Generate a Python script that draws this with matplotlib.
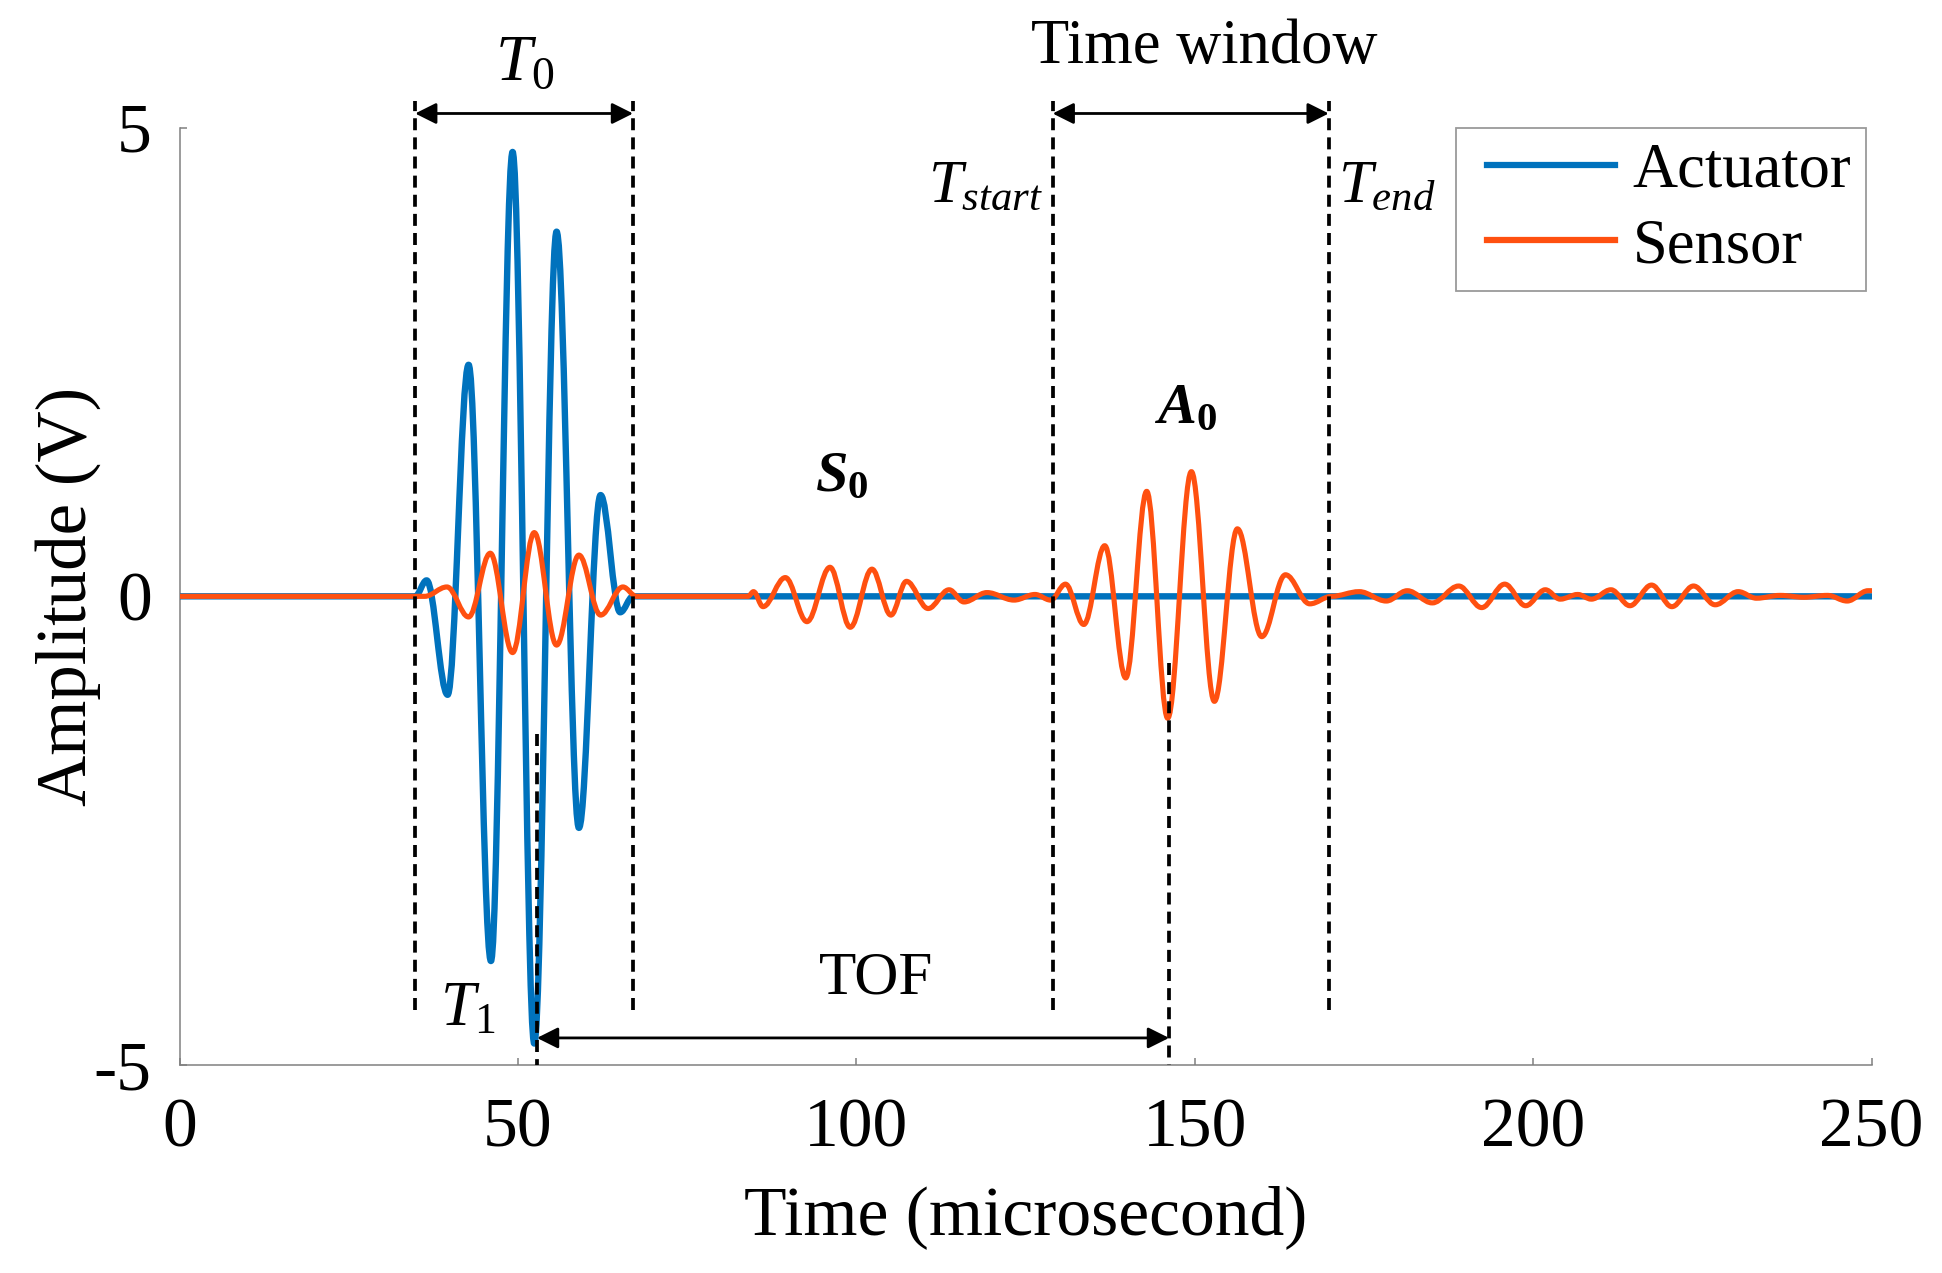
import matplotlib

matplotlib.use("Agg")
import matplotlib.pyplot as plt
from matplotlib.legend_handler import HandlerLine2D
from matplotlib.lines import Line2D
from matplotlib.patches import PathPatch
from matplotlib.path import Path

# ---------------------------------------------------------------------------
# Waveform extrema: (time in us, amplitude in V).
# ---------------------------------------------------------------------------

actuator_t = [0.0, 34.8, 36.5, 39.6, 42.7, 46.0, 49.2, 52.4, 55.7, 59.0, 62.2, 65.1, 67.0, 250.0]
actuator_v = [0.0, 0.0, 0.17, -1.05, 2.47, -3.89, 4.74, -4.77, 3.89, -2.47, 1.08, -0.17, 0.0, 0.0]

sensor_t = [
    0.0, 36.2, 39.5, 42.7, 45.9, 49.2, 52.4, 55.7, 59.0, 62.2, 65.5, 67.5,
    # S0 packet
    84.0, 84.8, 86.2, 89.5, 92.7, 96.1, 99.1, 102.3, 105.1, 107.4, 110.6,
    113.7, 115.9, 119.3, 123.3, 126.4, 128.7,
    # A0 packet
    130.9, 133.6, 136.7, 139.8, 142.9, 146.0, 149.5, 152.9, 156.3, 159.9,
    163.4, 167.0, 170.2,
    # reflections
    174.3, 178.3, 181.4, 185.1, 189.0, 192.4, 195.8, 198.9, 201.8, 204.0,
    206.6, 208.6, 211.5, 214.3, 217.5, 220.5, 223.7, 226.9, 230.3, 233.0,
    236.5, 240.0, 243.5, 246.4, 249.5, 250.0,
]
sensor_v = [
    0.0, 0.0, 0.1, -0.22, 0.46, -0.6, 0.68, -0.52, 0.44, -0.2, 0.1, 0.0,
    0.0, 0.05, -0.11, 0.2, -0.27, 0.31, -0.33, 0.29, -0.2, 0.16, -0.13,
    0.07, -0.06, 0.04, -0.04, 0.02, -0.04,
    0.13, -0.3, 0.54, -0.87, 1.12, -1.3, 1.33, -1.12, 0.72, -0.43,
    0.23, -0.08, 0.0,
    0.05, -0.05, 0.06, -0.07, 0.11, -0.12, 0.13, -0.1, 0.07, -0.03,
    0.02, -0.03, 0.07, -0.1, 0.12, -0.11, 0.11, -0.09, 0.05, -0.02,
    0.01, -0.01, 0.01, -0.05, 0.06, 0.06,
]

# annotation anchors (us)
t0_lines = [34.8, 67.0]
window_lines = [129.0, 169.8]
tof_lines = [52.8, 146.2]
tof_line_tops = [-1.47, -0.71]

xticks = [0, 50, 100, 150, 200, 250]
yticks = [-5, 0, 5]

BLUE = "#0072BD"
ORANGE = "#FF5010"
SPINE = "#808080"
K = 0.3634  # bezier handle fraction that mimics a half cosine between extrema

plt.rcParams["font.family"] = ["Liberation Serif", "DejaVu Serif"]
plt.rcParams["mathtext.fontset"] = "custom"
plt.rcParams["mathtext.rm"] = "Liberation Serif"
plt.rcParams["mathtext.it"] = "Liberation Serif:italic"
plt.rcParams["mathtext.bf"] = "Liberation Serif:bold"
plt.rcParams["mathtext.bfit"] = "Liberation Serif:italic:bold"
plt.rcParams["axes.unicode_minus"] = False


def wave_path(t, v):
    verts = [(t[0], v[0])]
    codes = [Path.MOVETO]
    for i in range(len(t) - 1):
        dt = t[i + 1] - t[i]
        verts += [(t[i] + K * dt, v[i]), (t[i + 1] - K * dt, v[i + 1]), (t[i + 1], v[i + 1])]
        codes += [Path.CURVE4] * 3
    return Path(verts, codes)


fig = plt.figure(figsize=(19.42, 12.73), dpi=100)
ax = fig.add_axes([0.0925, 0.1633, 0.8712, 0.7365])

ax.add_patch(PathPatch(wave_path(actuator_t, actuator_v), fill=False, edgecolor=BLUE,
                       lw=4.6, capstyle="round", joinstyle="round", zorder=3))
ax.add_patch(PathPatch(wave_path(sensor_t, sensor_v), fill=False, edgecolor=ORANGE,
                       lw=3.7, capstyle="round", joinstyle="round", zorder=4))

ax.set_xlim(0, 250)
ax.set_ylim(-5, 5)
ax.set_xticks(xticks)
ax.set_yticks(yticks)
ax.set_xticklabels([str(x) for x in xticks])
ax.set_yticklabels([str(y) for y in yticks])
ax.tick_params(direction="in", length=5, width=1.1, color=SPINE, labelsize=50)
ax.tick_params(axis="x", pad=24)
ax.tick_params(axis="y", pad=20)
for side in ("top", "right"):
    ax.spines[side].set_visible(False)
for side in ("left", "bottom"):
    ax.spines[side].set_color(SPINE)
    ax.spines[side].set_linewidth(1.1)

ax.set_xlabel("Time (microsecond)", fontsize=50, labelpad=17)
ax.set_ylabel("Amplitude (V)", fontsize=51, labelpad=-5)

# dashed markers
dash = dict(color="k", lw=2.7, linestyle=(0, (3.2, 1.9)), clip_on=False, zorder=5)
for x in t0_lines + window_lines:
    ax.plot([x, x], [-4.41, 5.28], **dash)
for x, top in zip(tof_lines, tof_line_tops):
    ax.plot([x, x], [top, -5.0], **dash)

arrow = dict(arrowstyle="<|-|>", color="k", lw=2.0, mutation_scale=32, shrinkA=0, shrinkB=0)
ax.annotate("", xy=(t0_lines[1], 5.15), xytext=(t0_lines[0], 5.15), arrowprops=arrow,
            annotation_clip=False, zorder=6)
ax.annotate("", xy=(window_lines[1], 5.15), xytext=(window_lines[0], 5.15), arrowprops=arrow,
            annotation_clip=False, zorder=6)
ax.annotate("", xy=(tof_lines[1], -4.71), xytext=(tof_lines[0], -4.71), arrowprops=arrow,
            annotation_clip=False, zorder=6)

ax.text(51.0, 5.67, r"$T_0$", fontsize=47, ha="center", va="center")
ax.text(151.4, 5.85, "Time window", fontsize=45, ha="center", va="center")
ax.text(127.6, 4.37, r"$T_{start}$", fontsize=44, ha="right", va="center")
ax.text(171.1, 4.37, r"$T_{end}$", fontsize=44, ha="left", va="center")
ax.text(97.9, 1.27, r"$\mathbfit{S}_\mathbf{0}$", fontsize=42, ha="center", va="center")
ax.text(148.6, 2.0, r"$\mathbfit{A}_\mathbf{0}$", fontsize=42, ha="center", va="center")
ax.text(102.9, -4.08, "TOF", fontsize=44, ha="center", va="center")
ax.text(42.6, -4.41, r"$T_1$", fontsize=45, ha="center", va="center")

handles = [Line2D([], [], color=BLUE, lw=4.5), Line2D([], [], color=ORANGE, lw=4.5)]
leg = ax.legend(handles, ["Actuator", "Sensor"], loc="upper right", bbox_to_anchor=(0.997, 1.0),
                fontsize=45, frameon=True, fancybox=False, handlelength=2.31,
                handler_map={Line2D: HandlerLine2D(xpad=0.25)},
                handletextpad=0.28, labelspacing=0.28, borderpad=0.24, borderaxespad=0)
leg.get_frame().set_edgecolor(SPINE)
leg.get_frame().set_linewidth(1.3)

fig.savefig("out.png", dpi=100)
